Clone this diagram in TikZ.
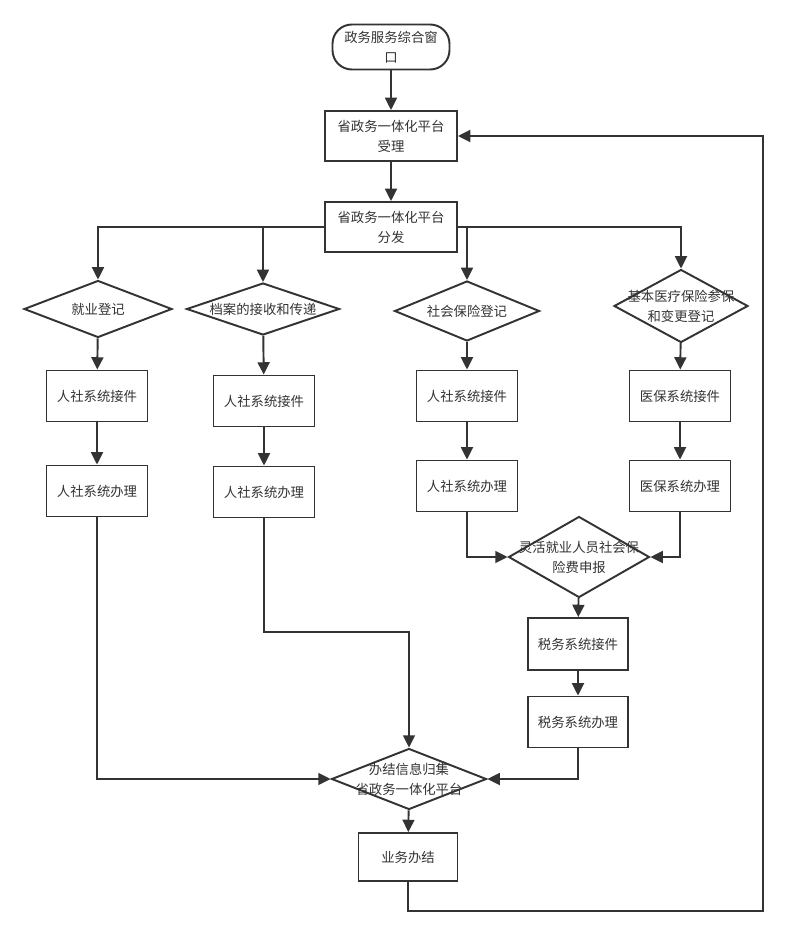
\documentclass[tikz,border=0pt]{standalone}
\usepackage{fontspec}
\newfontfamily\cjk{Noto Sans CJK SC}
\usepackage{tikz}
\usepackage{xcolor}
\usetikzlibrary{positioning,shapes.geometric,arrows.meta}
\definecolor{lineGray}{HTML}{333333}
\tikzstyle{procBox} = [rectangle, draw=lineGray, line width=1.1pt, text=lineGray, align=center, inner sep=1pt]
\tikzstyle{termNode} = [rectangle, rounded corners=11pt, draw=lineGray, line width=1.1pt, text=lineGray, align=center, minimum width=2.34cm, minimum height=0.9cm]
\tikzstyle{decNode} = [diamond, aspect=1, inner sep=0pt, draw=lineGray, line width=1.1pt]
\tikzstyle{decText} = [text=lineGray, align=center]
\tikzstyle{flow} = [->, draw=lineGray, line width=1.1pt]

\begin{document}
\begin{tikzpicture}[x=0.02cm, y=-0.02cm, font=\cjk\fontsize{7.6}{11.3}\selectfont,
    >={Triangle[width=6.8pt,length=7pt]}]
    \useasboundingbox[fill=white] (0,0) rectangle (788,936);
    % top part
    \node (start) at (391,47) [termNode] {政务服务综合窗\\口};
    \node (accept) at (391,136) [procBox, minimum width=2.64cm, minimum height=1cm] {省政务一体化平台\\受理};
    \node (dispatch) at (391,227) [procBox, minimum width=2.64cm, minimum height=1cm] {省政务一体化平台\\分发};
    % registrations
    \node (d1) at (98,309) [decNode, minimum width=2.96cm, minimum height=1.14cm, label={[decText]center:就业登记}] {};
    \node (d2) at (263,309) [decNode, minimum width=3.06cm, minimum height=1.04cm, label={[decText]center:档案的接收和传递}] {};
    \node (d3) at (467,311) [decNode, minimum width=2.9cm, minimum height=1.2cm, label={[decText]center:社会保险登记}] {};
    \node (d4) at (681,306) [decNode, minimum width=2.68cm, minimum height=1.46cm, label={[decText]center:基本医疗保险参保\\和变更登记}] {};
    % system boxes
    \node (r1a) at (97,396) [procBox, minimum width=2.02cm, minimum height=1.02cm] {人社系统接件};
    \node (r1b) at (97,491) [procBox, minimum width=2.02cm, minimum height=1.02cm] {人社系统办理};
    \node (r2a) at (264,401) [procBox, minimum width=2.02cm, minimum height=1.02cm] {人社系统接件};
    \node (r2b) at (264,492) [procBox, minimum width=2.02cm, minimum height=1.02cm] {人社系统办理};
    \node (r3a) at (467,396) [procBox, minimum width=2.02cm, minimum height=1.02cm] {人社系统接件};
    \node (r3b) at (467,486) [procBox, minimum width=2.02cm, minimum height=1.02cm] {人社系统办理};
    \node (r4a) at (680,396) [procBox, minimum width=2.02cm, minimum height=1.02cm] {医保系统接件};
    \node (r4b) at (680,486) [procBox, minimum width=2.02cm, minimum height=1.02cm] {医保系统办理};
    % tax
    \node (d5) at (579,557) [decNode, minimum width=2.82cm, minimum height=1.62cm, label={[decText]center:灵活就业人员社会保\\险费申报}] {};
    \node (t1) at (578,644) [procBox, minimum width=2.0cm, minimum height=1.04cm] {税务系统接件};
    \node (t2) at (578,722) [procBox, minimum width=2.0cm, minimum height=1.02cm] {税务系统办理};
    % end
    \node (d6) at (409,779) [decNode, minimum width=3.1cm, minimum height=1.22cm, label={[decText]center:办结信息归集\\省政务一体化平台}] {};
    \node (done) at (408,857) [procBox, minimum width=1.98cm, minimum height=0.96cm] {业务办结};
    \coordinate (j2) at (409,632);
    \coordinate (back) at (763,911);

    \draw[flow] (start) -- (accept);
    \draw[flow] (accept) -- (dispatch);
    \draw[flow] (dispatch.west) -| (d1);
    \draw[flow] (dispatch.west) -| (d2);
    \draw[flow] (dispatch.east) -| (d3);
    \draw[flow] (dispatch.east) -| (d4);
    \draw[flow] (d1) -- (r1a);
    \draw[flow] (r1a) -- (r1b);
    \draw[flow] (d2) -- (r2a);
    \draw[flow] (r2a) -- (r2b);
    \draw[flow] (d3) -- (r3a);
    \draw[flow] (r3a) -- (r3b);
    \draw[flow] (d4) -- (r4a);
    \draw[flow] (r4a) -- (r4b);
    \draw[flow] (r3b) |- (d5);
    \draw[flow] (r4b) |- (d5);
    \draw[flow] (d5) -- (t1);
    \draw[flow] (t1) -- (t2);
    \draw[flow] (r1b) |- (d6);
    \draw[flow] (r2b) |- (j2) -- (d6);
    \draw[flow] (t2) |- (d6);
    \draw[flow] (d6) -- (done);
    \draw[flow] (done) |- (back) |- (accept);
\end{tikzpicture}
\end{document}
